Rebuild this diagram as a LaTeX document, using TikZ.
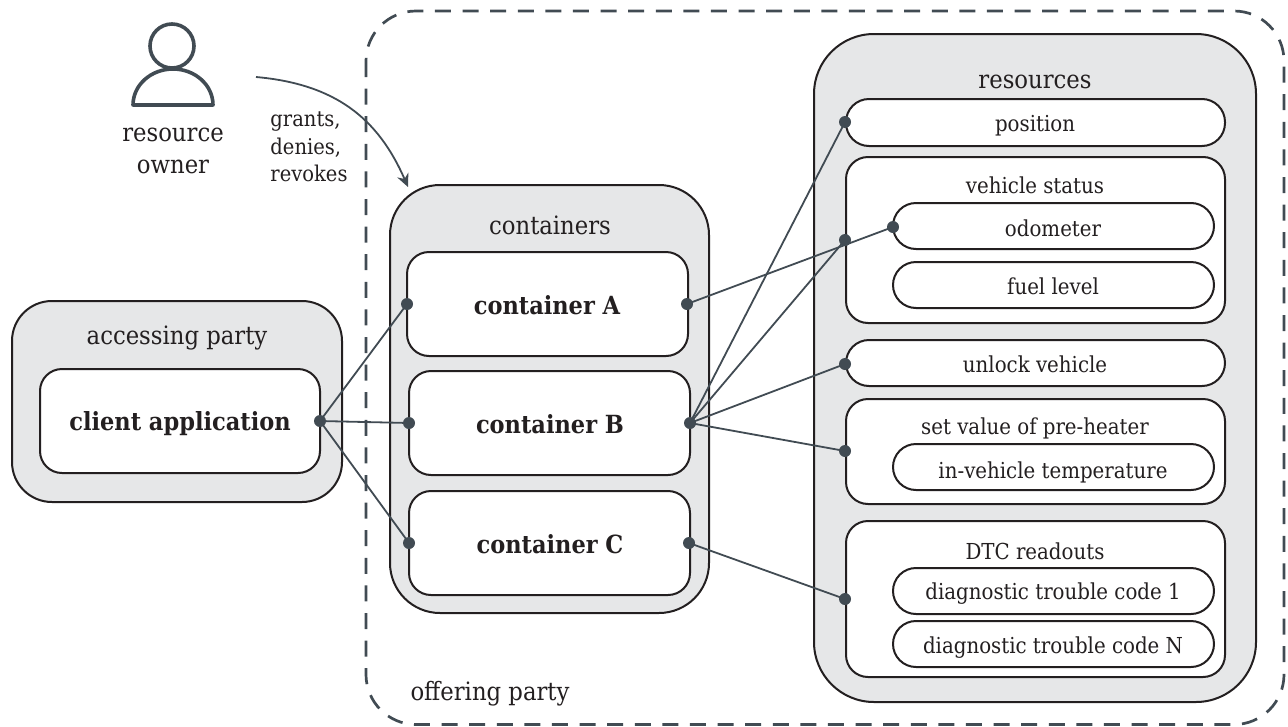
\documentclass[tikz,border=0pt]{standalone}
\usepackage{fontspec}
\setmainfont{DejaVu Serif Condensed}
\usetikzlibrary{arrows.meta}
\definecolor{panel}{HTML}{E6E7E8}
\definecolor{edge}{HTML}{231F20}
\definecolor{slate}{HTML}{414B53}
\tikzset{
  x=1pt,y=-1pt,
  panelbox/.style={draw=edge,line width=2pt,fill=panel},
  innerbox/.style={draw=edge,line width=2pt,fill=white},
  txt/.style={text=edge,font=\fontsize{25.3}{32}\selectfont,inner sep=0pt,align=center},
  small/.style={text=edge,font=\fontsize{22}{27}\selectfont,inner sep=0pt,align=center},
  bold/.style={text=edge,font=\fontsize{25}{30}\selectfont\bfseries,inner sep=0pt,align=center},
  dot/.style={circle,fill=slate,inner sep=0pt,minimum size=12pt},
  link/.style={draw=slate,line width=1.8pt},
}
\newcommand{\rbox}[6]{\draw[#1,rounded corners=#6pt] (#2,#3) rectangle (#4,#5);}
\begin{document}
\begin{tikzpicture}
\useasboundingbox (0,0) rectangle (1288,726);
% offering party
\draw[draw=slate,line width=2.7pt,dash pattern=on 16pt off 11.6pt,rounded corners=50pt] (366,11) rectangle (1284,724.5);
% panels
\rbox{panelbox}{12}{301}{342}{502}{40}
\rbox{panelbox}{390}{185}{709}{613}{50}
\rbox{panelbox}{814}{34}{1256}{702}{60}
% inner boxes
\rbox{innerbox}{40}{369}{320}{473}{22}
\rbox{innerbox}{407}{252}{688}{356}{22}
\rbox{innerbox}{409}{371}{690}{475}{22}
\rbox{innerbox}{409}{491}{690}{595}{22}
\rbox{innerbox}{846}{99}{1225}{146}{23}
\rbox{innerbox}{846}{157}{1225}{323}{22}
\rbox{innerbox}{893}{203}{1214}{249}{23}
\rbox{innerbox}{893}{262}{1214}{308}{23}
\rbox{innerbox}{846}{340}{1225}{386}{23}
\rbox{innerbox}{846}{399}{1225}{504}{22}
\rbox{innerbox}{893}{444}{1214}{490}{23}
\rbox{innerbox}{846}{521}{1225}{677}{22}
\rbox{innerbox}{893}{568}{1214}{614}{23}
\rbox{innerbox}{893}{621}{1214}{667}{23}
% labels
\node[txt] (lAcc) at (177,338) {accessing party};
\node[bold] (lClient) at (180,424) {client application};
\node[txt] (lCont) at (550,225.5) {containers};
\node[bold] (lA) at (547,305) {container A};
\node[bold] (lB) at (550,424) {container B};
\node[bold] (lC) at (550,544) {container C};
\node[txt] (lRes) at (1035,82) {resources};
\node[small] (lPos) at (1035,126) {position};
\node[small] (lVeh) at (1035,185.5) {vehicle status};
\node[small] (lOdo) at (1053,228) {odometer};
\node[small] (lFuel) at (1053,286) {fuel level};
\node[small] (lUnl) at (1035,364) {unlock vehicle};
\node[small] (lSet) at (1035,428) {set value of pre-heater};
\node[small] (lTemp) at (1053,472) {in-vehicle temperature};
\node[small] (lDtc) at (1035,551.5) {DTC readouts};
\node[small] (lD1) at (1053,594) {diagnostic trouble code 1};
\node[small] (lDN) at (1053,648) {diagnostic trouble code N};
\node[txt] (lOff) at (490,694) {offering party};
\node[txt] (lOwner) at (173,151) {resource\\owner};
\node[small,align=left,font=\fontsize{21.7}{27.5}\selectfont] (lGrants) at (309,147) {grants,\\denies,\\revokes};
% person icon
\draw[draw=slate,line width=3.6pt] (172,46) circle (22);
\draw[draw=slate,line width=3.6pt,line join=round] (133,105) arc[start angle=180,end angle=0,x radius=40,y radius=-36] -- cycle;
% arrow
\coordinate (arrowStart) at (256,77);
\coordinate (arrowEnd) at (408,187);
\draw[link,-{Stealth[length=13pt,width=12pt]}] (arrowStart) .. controls (335,84) and (378,118) .. (arrowEnd);
% dots
\node[dot] (dClient) at (320,421) {};
\node[dot] (dAin) at (407,304) {};
\node[dot] (dBin) at (409,423) {};
\node[dot] (dCin) at (409,543) {};
\node[dot] (dAout) at (687,304) {};
\node[dot] (dBout) at (690,423) {};
\node[dot] (dCout) at (689,543) {};
\node[dot] (dPos) at (845,122) {};
\node[dot] (dVeh) at (845,240) {};
\node[dot] (dOdo) at (893,227) {};
\node[dot] (dUnl) at (845,364) {};
\node[dot] (dSet) at (845,451) {};
\node[dot] (dDtc) at (845,599) {};
% connectors
\draw[link] (dClient.center) -- (dAin.center);
\draw[link] (dClient.center) -- (dBin.center);
\draw[link] (dClient.center) -- (dCin.center);
\draw[link] (dAout.center) -- (dOdo.center);
\draw[link] (dBout.center) -- (dPos.center);
\draw[link] (dBout.center) -- (dVeh.center);
\draw[link] (dBout.center) -- (dUnl.center);
\draw[link] (dBout.center) -- (dSet.center);
\draw[link] (dCout.center) -- (dDtc.center);
\end{tikzpicture}
\end{document}
